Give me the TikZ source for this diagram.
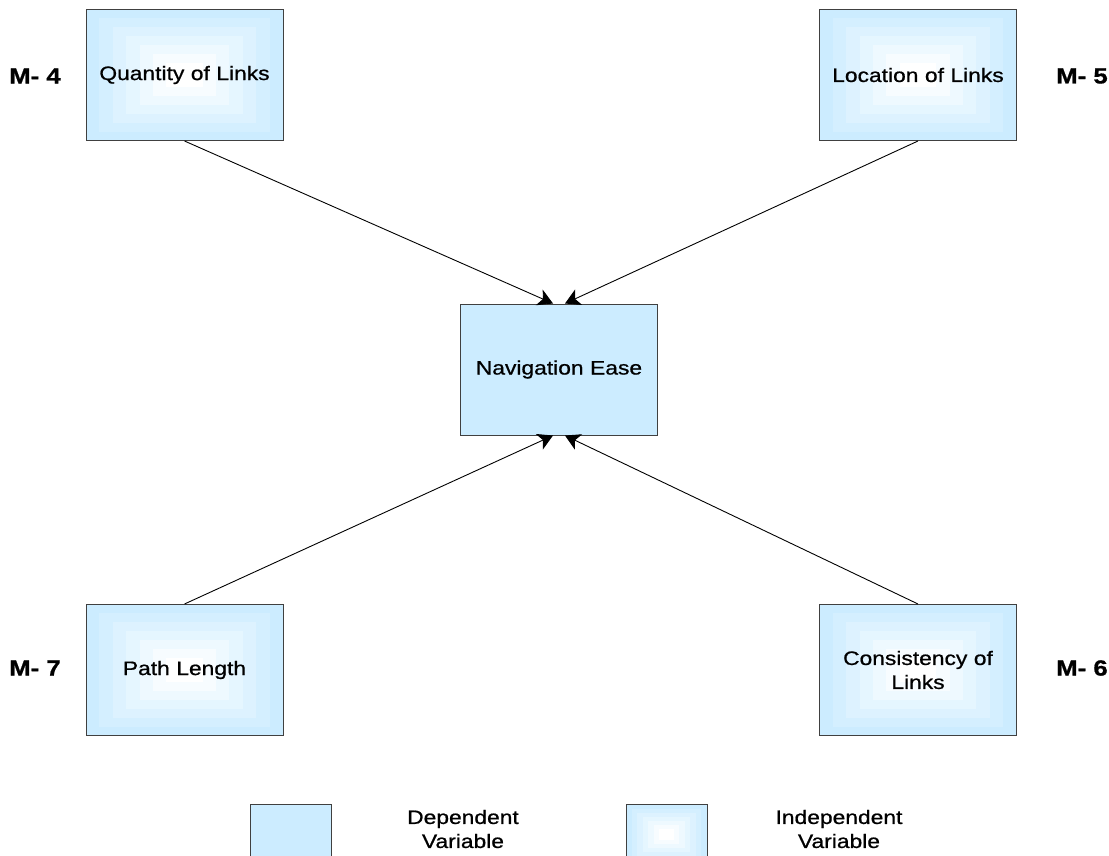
\documentclass[tikz,border=0pt]{standalone}
\usepackage{fontspec}
\setmainfont{Liberation Sans}[FakeStretch=1.17,FakeBold=0.8]
\usetikzlibrary{arrows.meta,calc}
\definecolor{boxblue}{HTML}{CCECFF}
\definecolor{edgegray}{HTML}{404040}
\tikzset{
  base/.style={draw=edgegray, line width=1pt, minimum width=197pt, minimum height=131pt,
    text width=185pt, align=center, inner sep=0pt,
    font=\fontsize{19.5}{24}\selectfont},
  depbox/.style={base, fill=boxblue},
  indepbox/.style={base, path picture={
    \foreach \k in {0,...,6}{
      \pgfmathsetmacro\shadefrac{\k*0.068}
      \pgfmathsetmacro\shadepct{100-\k*100/6}
      \fill[boxblue!\shadepct!white]
        ($(path picture bounding box.south west)!\shadefrac!(path picture bounding box.north east)$)
        rectangle
        ($(path picture bounding box.north east)!\shadefrac!(path picture bounding box.south west)$);
    }}},
  mlabel/.style={font=\fontsize{22}{26}\selectfont\bfseries},
  legend/.style={align=center, font=\fontsize{19.5}{24}\selectfont},
  link/.style={line width=0.9pt, -{Stealth[length=15pt,width=17pt,inset=4pt]}},
}
\begin{document}
\begin{tikzpicture}[x=1pt,y=-1pt]
  \useasboundingbox (0,0) rectangle (1109,856);

  % central dependent variable
  \node[depbox] (nav) at (559,369.5) {Navigation Ease};

  % independent variables
  \node[indepbox] (qty) at (184.5,75) {Quantity of Links};
  \node[indepbox] (loc) at (918,75) {Location of Links};
  \node[indepbox] (path) at (184.5,670) {Path Length};
  \node[indepbox] (cons) at (918,670) {Consistency of\\Links};

  % measure labels
  \node[mlabel] (m4) at (35,76) {M- 4};
  \node[mlabel] (m5) at (1082,76) {M- 5};
  \node[mlabel] (m7) at (35,668) {M- 7};
  \node[mlabel] (m6) at (1082,668) {M- 6};

  % arrow targets on the central box
  \coordinate (navTL) at ($(nav.north)+(-6,0)$);
  \coordinate (navTR) at ($(nav.north)+(6,0)$);
  \coordinate (navBL) at ($(nav.south)+(-6,0)$);
  \coordinate (navBR) at ($(nav.south)+(6,0)$);

  \draw[link] (qty.south) -- (navTL);
  \draw[link] (loc.south) -- (navTR);
  \draw[link] (path.north) -- (navBL);
  \draw[link] (cons.north) -- (navBR);

  % legend
  \node[depbox, minimum width=81pt, minimum height=60pt, text width=70pt, anchor=north] (legdep) at (290.5,804) {};
  \node[legend] (legdeptext) at (463,829) {Dependent\\Variable};
  \node[indepbox, minimum width=81pt, minimum height=60pt, text width=70pt, anchor=north] (legind) at (666.5,804) {};
  \node[legend] (legindtext) at (839,829) {Independent\\Variable};
\end{tikzpicture}
\end{document}
